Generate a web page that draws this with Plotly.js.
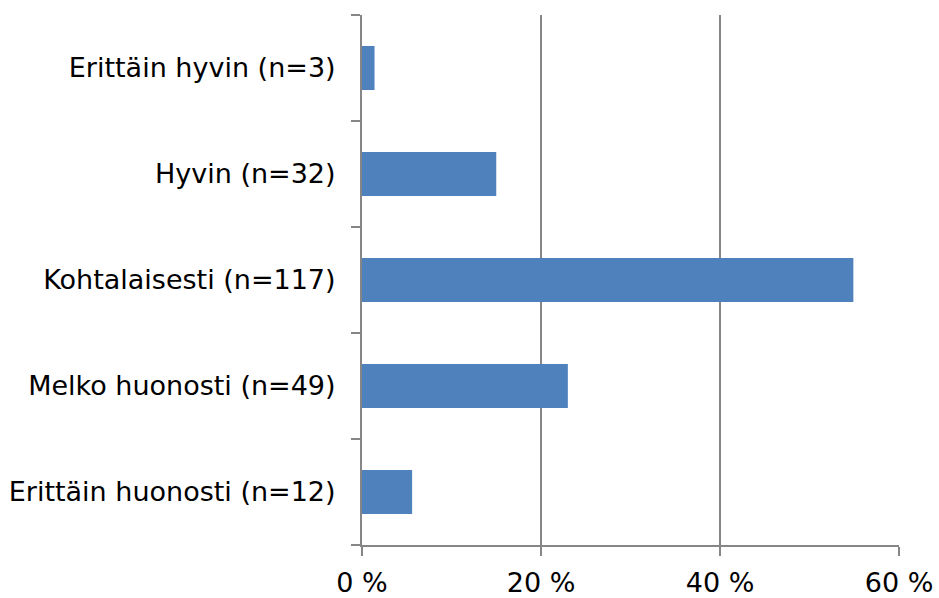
<!DOCTYPE html>
<html>
<head>
<meta charset="utf-8">
<script src="https://cdn.plot.ly/plotly-3.0.1.min.js"></script>
<style>
html,body{margin:0;padding:0;background:#fff;}
#chart{width:939px;height:598px;}
</style>
</head>
<body>
<div id="chart"></div>
<script>
const categories = [
  "Erittäin hyvin (n=3)",
  "Hyvin (n=32)",
  "Kohtalaisesti (n=117)",
  "Melko huonosti (n=49)",
  "Erittäin huonosti (n=12)"
];
const percentages = [1.4, 15.0, 54.9, 23.0, 5.6];
const xTickValues = [0, 20, 40, 60];
const xTickLabels = ["0 %", "20 %", "40 %", "60 %"];

const axisGray = "#868686";
const fontFamily = "DejaVu Sans, Verdana, sans-serif";

const data = [{
  type: "bar",
  orientation: "h",
  x: percentages,
  y: categories,
  marker: {color: "#4F81BD"},
  hoverinfo: "none"
}];

const layout = {
  width: 939,
  height: 598,
  margin: {l: 362, r: 40, t: 15, b: 53, pad: 0},
  paper_bgcolor: "#ffffff",
  plot_bgcolor: "#ffffff",
  showlegend: false,
  bargap: 0.585,
  font: {family: fontFamily, size: 27, color: "#000000"},
  xaxis: {
    range: [0, 60],
    tickvals: xTickValues,
    ticktext: xTickLabels,
    showgrid: true,
    gridcolor: axisGray,
    gridwidth: 2,
    showline: true,
    linecolor: axisGray,
    linewidth: 2,
    ticks: "outside",
    ticklen: 9,
    tickwidth: 2,
    tickcolor: axisGray,
    ticklabelstandoff: 4,
    zeroline: false,
    fixedrange: true,
    tickfont: {family: fontFamily, size: 27, color: "#000"}
  },
  yaxis: {
    type: "category",
    categoryorder: "array",
    categoryarray: categories.slice().reverse(),
    showgrid: false,
    showline: true,
    linecolor: axisGray,
    linewidth: 2,
    ticks: "outside",
    tickson: "boundaries",
    ticklen: 9,
    tickwidth: 2,
    tickcolor: axisGray,
    ticklabelstandoff: 19,
    zeroline: false,
    fixedrange: true,
    tickfont: {family: fontFamily, size: 27, color: "#000"}
  }
};

Plotly.newPlot("chart", data, layout, {staticPlot: true, displayModeBar: false});
</script>
</body>
</html>
